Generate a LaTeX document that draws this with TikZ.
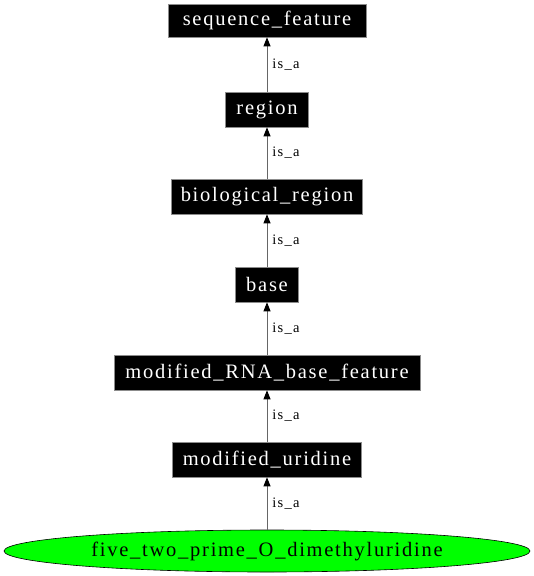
\documentclass[tikz,border=0pt]{standalone}
\usepackage{fontspec}
\setmainfont{Liberation Serif}
\newfontfamily\boxfont[LetterSpace=8.5]{Liberation Serif}
\usetikzlibrary{arrows.meta,shapes.geometric}
\begin{document}
\begin{tikzpicture}[x=1pt,y=-1pt,
  termbox/.style={rectangle,fill=black,draw=black!45,line width=0.6pt,text=white,font=\boxfont\fontsize{20.5}{23}\selectfont,inner sep=0pt},
  leafnode/.style={ellipse,fill=green,draw=black,line width=0.6pt,font=\boxfont\fontsize{20.5}{23}\selectfont,inner sep=0pt,minimum width=526pt,minimum height=42pt},
  isa/.style={draw=black!60,line width=0.9pt,-{Triangle[width=7pt,length=9pt,fill=black,color=black]}},
  lbl/.style={font=\boxfont\fontsize{14.5}{16}\selectfont,anchor=west,inner sep=0pt}]
\useasboundingbox (0,0) rectangle (534,576);
\node[termbox,minimum width=198pt,minimum height=33pt] (sf) at (267,20.5) {sequence\_feature};
\node[termbox,minimum width=83pt,minimum height=35pt] (rg) at (267,109.5) {region};
\node[termbox,minimum width=191pt,minimum height=35pt] (br) at (267,196.5) {biological\_region};
\node[termbox,minimum width=63pt,minimum height=35pt] (bs) at (267,284.5) {base};
\node[termbox,minimum width=306pt,minimum height=35pt] (mr) at (267,372.5) {modified\_RNA\_base\_feature};
\node[termbox,minimum width=189pt,minimum height=35pt] (mu) at (267,459.5) {modified\_uridine};
\node[leafnode] (fd) at (267,551) {five\_two\_prime\_O\_dimethyluridine};
\draw[isa] (rg) -- node[lbl,pos=0.5,xshift=5pt]{is\_a} (sf);
\draw[isa] (br) -- node[lbl,pos=0.5,xshift=5pt]{is\_a} (rg);
\draw[isa] (bs) -- node[lbl,pos=0.5,xshift=5pt]{is\_a} (br);
\draw[isa] (mr) -- node[lbl,pos=0.5,xshift=5pt]{is\_a} (bs);
\draw[isa] (mu) -- node[lbl,pos=0.5,xshift=5pt]{is\_a} (mr);
\draw[isa] (fd) -- node[lbl,pos=0.5,xshift=5pt]{is\_a} (mu);
\end{tikzpicture}
\end{document}
